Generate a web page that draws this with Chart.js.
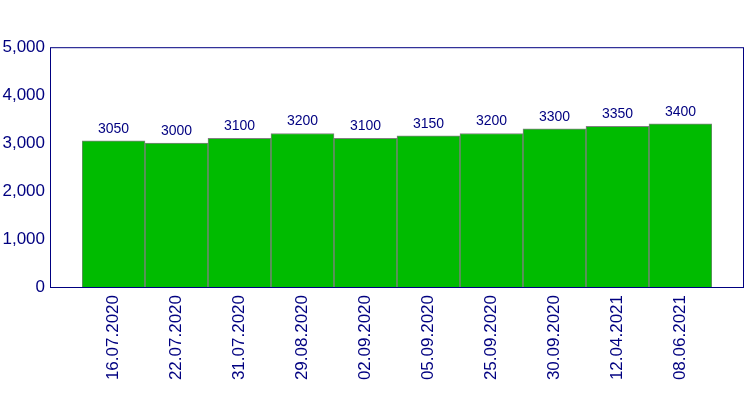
<!DOCTYPE html>
<html>
<head>
<meta charset="utf-8">
<script src="https://cdn.jsdelivr.net/npm/chart.js@4"></script>
<style>
  body { margin: 0; background: #fff; }
</style>
</head>
<body>
<canvas id="chart" width="750" height="400"></canvas>
<script>
const dates = ['16.07.2020', '22.07.2020', '31.07.2020', '29.08.2020', '02.09.2020',
               '05.09.2020', '25.09.2020', '30.09.2020', '12.04.2021', '08.06.2021'];
const values = [3050, 3000, 3100, 3200, 3100, 3150, 3200, 3300, 3350, 3400];
const yTicks = [0, 1000, 2000, 3000, 4000, 5000];

const navy = '#000080';
const font = 'Arial, "Liberation Sans", sans-serif';

// Rahmen um den Plotbereich und Werte über den Balken
const extras = {
  id: 'extras',
  afterDraw(chart) {
    const ctx = chart.ctx;
    const a = chart.chartArea;
    ctx.save();
    ctx.strokeStyle = navy;
    ctx.lineWidth = 1;
    ctx.strokeRect(a.left - 31.5, a.top + 0.5, a.right - a.left + 63, a.bottom - a.top);
    ctx.fillStyle = navy;
    ctx.font = '14px ' + font;
    ctx.textAlign = 'center';
    ctx.textBaseline = 'bottom';
    chart.getDatasetMeta(0).data.forEach((bar, i) => {
      ctx.fillText(values[i], bar.x, bar.y - 5);
    });
    ctx.restore();
  }
};

new Chart(document.getElementById('chart'), {
  type: 'bar',
  data: {
    labels: dates,
    datasets: [{
      data: values,
      backgroundColor: '#00bb00',
      borderColor: '#808080',
      borderWidth: 1,
      categoryPercentage: 1,
      barPercentage: 1
    }]
  },
  options: {
    responsive: false,
    animation: false,
    layout: { padding: { top: 10, right: 38, left: 0, bottom: 0 } },
    plugins: { legend: { display: false }, tooltip: { enabled: false } },
    scales: {
      x: {
        offset: true,
        grid: { display: false, drawTicks: false },
        border: { display: false },
        ticks: { color: navy, font: { size: 17, family: font }, minRotation: 90, maxRotation: 90, padding: 8 },
        afterFit: s => { s.height = 113; }
      },
      y: {
        min: 0, max: 5000,
        afterBuildTicks: s => { s.ticks = yTicks.map(v => ({ value: v })); },
        grid: { display: false, drawTicks: false },
        border: { display: false },
        ticks: { color: navy, font: { size: 17, family: font }, padding: 37 },
        afterFit: s => { s.width = 82; }
      }
    }
  },
  plugins: [extras]
});
</script>
</body>
</html>
